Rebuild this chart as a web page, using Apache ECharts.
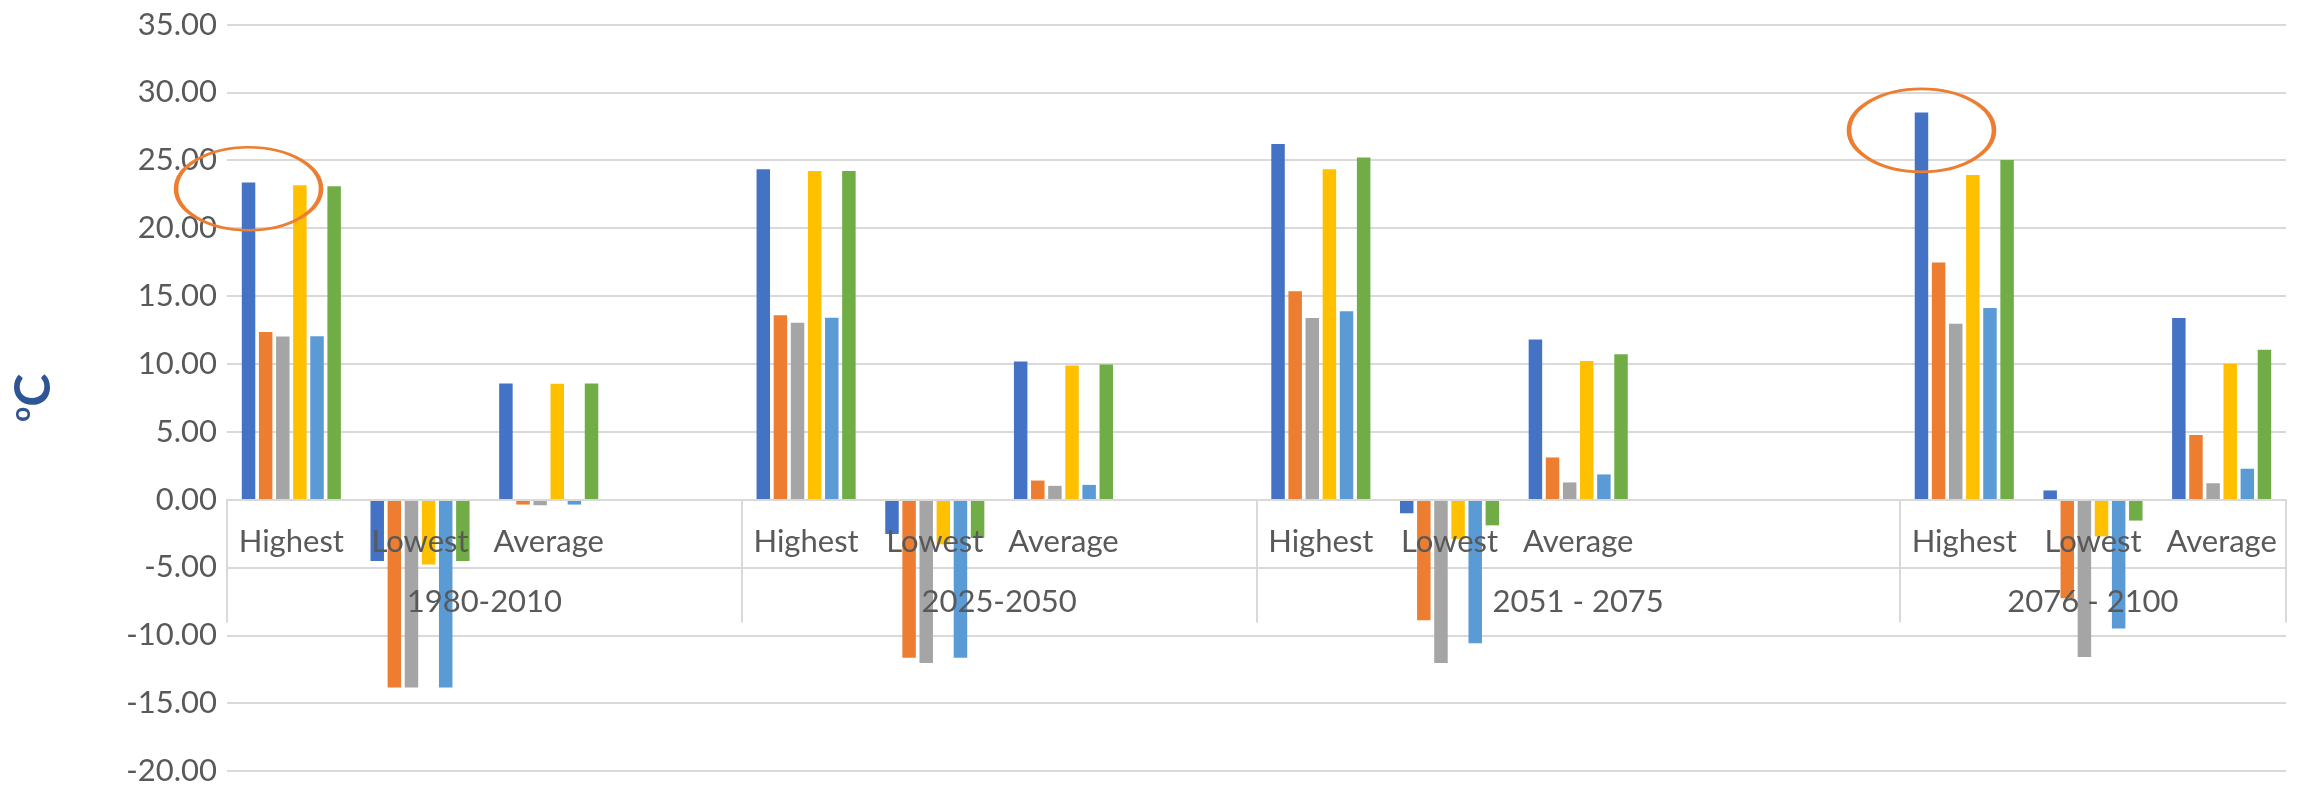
<!DOCTYPE html>
<html>
<head>
<meta charset="utf-8">
<script src="https://cdn.jsdelivr.net/npm/echarts@6/dist/echarts.min.js"></script>
<style>
    html, body { margin: 0; padding: 0; background: #fff; }
    #main-echart { width: 2300px; height: 788px; }
</style>
</head>
<body>
<div id="main-echart"></div>
<script>
// level-1 categories ('' = empty slot in the source sheet) and their period
var categories = ['Highest', 'Lowest', 'Average', '',
                  'Highest', 'Lowest', 'Average', '',
                  'Highest', 'Lowest', 'Average', '', '',
                  'Highest', 'Lowest', 'Average'];
var periods = ['1980-2010', '1980-2010', '1980-2010', '1980-2010',
               '2025-2050', '2025-2050', '2025-2050', '2025-2050',
               '2051 - 2075', '2051 - 2075', '2051 - 2075', '2051 - 2075', '2051 - 2075',
               '2076 - 2100', '2076 - 2100', '2076 - 2100'];

var seriesNames = ['Series 1', 'Series 2', 'Series 3', 'Series 4', 'Series 5', 'Series 6'];
var s1 = [23.35, -4.53, 8.55, null, 24.33, -2.54, 10.17, null, 26.20, -1.01, 11.80, null, null, 28.52, 0.67, 13.37];
var s2 = [12.34, -13.84, -0.37, null, 13.57, -11.65, 1.40, null, 15.34, -8.89, 3.10, null, null, 17.46, -7.27, 4.75];
var s3 = [12.02, -13.84, -0.42, null, 13.03, -12.04, 1.01, null, 13.37, -12.04, 1.26, null, null, 12.96, -11.60, 1.20];
var s4 = [23.15, -4.78, 8.53, null, 24.21, -3.30, 9.88, null, 24.33, -2.90, 10.20, null, null, 23.92, -2.71, 10.00];
var s5 = [12.04, -13.84, -0.37, null, 13.40, -11.65, 1.08, null, 13.87, -10.59, 1.85, null, null, 14.11, -9.51, 2.27];
var s6 = [23.08, -4.53, 8.55, null, 24.21, -2.83, 9.95, null, 25.20, -1.90, 10.70, null, null, 25.02, -1.55, 11.03];

var yMin = -20, yMax = 35, yStep = 5;

// circled bars: [category index, value at centre of the circle]
var highlights = [[0, 22.9], [13, 27.2]];

var colors = ['#4472C4', '#ED7D31', '#A5A5A5', '#FFC000', '#5B9BD5', '#70AD47'];
var font = 'Lato, "Noto Sans", sans-serif';

// period groups: boundaries and centres on a 0..n scale
var bounds = [0], centers = [], names = [];
var start = 0;
for (var i = 1; i <= periods.length; i++) {
    if (i === periods.length || periods[i] !== periods[start]) {
        bounds.push(i);
        centers.push((start + i) / 2);
        names.push(periods[start]);
        start = i;
    }
}

// plot box; the label grid ends where the value axis crosses 0
var gTop = 24.5, gBottom = 17, gLeft = 227, gRight = 14;
var plotH = 788 - gTop - gBottom;
var zeroH = plotH * yMax / (yMax - yMin);

var chart = echarts.init(document.getElementById('main-echart'));
var allData = [s1, s2, s3, s4, s5, s6];

var series = allData.map(function (d, i) {
    var s = {
        name: seriesNames[i],
        type: 'bar',
        data: d,
        barGap: '27%',
        barCategoryGap: '23%',
        itemStyle: { color: colors[i] }
    };
    if (i === 0) {
        s.markPoint = {
            silent: true,
            symbol: 'path://M0,40A70,40,0,1,1,140,40A70,40,0,1,1,0,40Z',
            symbolSize: [145, 83],
            itemStyle: { color: 'rgba(0,0,0,0)', borderColor: '#ED7D31', borderWidth: 3.5 },
            label: { show: false },
            data: highlights.map(function (h) { return { coord: [h[0], h[1]] }; })
        };
    }
    return s;
});

var labelStyle = { fontFamily: font, fontSize: 31, color: '#595959' };

var option = {
    animation: false,
    backgroundColor: '#fff',
    grid: [
        { left: gLeft, right: gRight, top: gTop, bottom: gBottom, outerBoundsMode: 'none' },
        { left: gLeft, right: gRight, top: gTop, height: zeroH, outerBoundsMode: 'none' }
    ],
    xAxis: [
        { type: 'category', data: categories, gridIndex: 0, show: false },
        {
            type: 'category',
            data: categories,
            gridIndex: 1,
            position: 'bottom',
            z: 10,
            axisLine: { lineStyle: { color: '#d9d9d9', width: 2 } },
            axisTick: { show: false },
            axisLabel: Object.assign({ interval: 0, margin: 27 }, labelStyle)
        },
        {
            type: 'value',
            min: 0,
            max: categories.length,
            gridIndex: 1,
            position: 'bottom',
            z: 10,
            axisLine: { show: false },
            splitLine: { show: false },
            axisTick: {
                show: true, customValues: bounds, length: 123,
                lineStyle: { color: '#d9d9d9', width: 2 }
            },
            axisLabel: Object.assign({
                customValues: centers, margin: 87,
                formatter: function (v) {
                    for (var k = 0; k < centers.length; k++) {
                        if (Math.abs(centers[k] - v) < 1e-6) return names[k];
                    }
                    return '';
                }
            }, labelStyle)
        }
    ],
    yAxis: [
        {
            type: 'value',
            gridIndex: 0,
            min: yMin,
            max: yMax,
            interval: yStep,
            axisLine: { show: false },
            axisTick: { show: false },
            splitLine: { lineStyle: { color: '#d9d9d9', width: 2 } },
            axisLabel: Object.assign({
                margin: 10,
                formatter: function (v) { return v.toFixed(2); }
            }, labelStyle),
            name: '{s|o}{c|C}',
            nameLocation: 'middle',
            nameRotate: 90,
            nameGap: 168,
            nameTextStyle: {
                rich: {
                    s: { fontFamily: font, fontSize: 26, fontWeight: 'bold', color: '#2F5597', verticalAlign: 'top' },
                    c: { fontFamily: font, fontSize: 50, fontWeight: 'bold', color: '#2F5597' }
                }
            }
        },
        { type: 'value', gridIndex: 1, min: 0, max: 1, show: false }
    ],
    series: series
};

option && chart.setOption(option);
</script>
</body>
</html>
